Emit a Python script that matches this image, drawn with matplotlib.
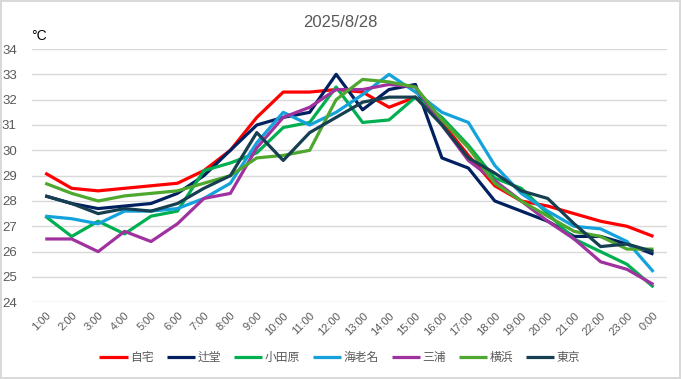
import matplotlib
matplotlib.use('Agg')
import matplotlib.pyplot as plt

plt.rcParams['font.family'] = ['Liberation Sans', 'Noto Sans CJK JP', 'DejaVu Sans']

hours = ['1:00', '2:00', '3:00', '4:00', '5:00', '6:00', '7:00', '8:00', '9:00', '10:00',
         '11:00', '12:00', '13:00', '14:00', '15:00', '16:00', '17:00', '18:00', '19:00',
         '20:00', '21:00', '22:00', '23:00', '0:00']

jitaku = [29.1, 28.5, 28.4, 28.5, 28.6, 28.7, 29.2, 30.0, 31.3, 32.3, 32.3, 32.4,
          32.3, 31.7, 32.1, 31.1, 29.8, 28.6, 28.0, 27.8, 27.5, 27.2, 27.0, 26.6]
tsujido = [28.2, 27.9, 27.7, 27.8, 27.9, 28.3, 29.0, 30.0, 31.0, 31.3, 31.5, 33.0,
           31.6, 32.4, 32.6, 29.7, 29.3, 28.0, 27.6, 27.2, 26.6, 26.6, 26.3, 25.9]
odawara = [27.4, 26.6, 27.2, 26.7, 27.4, 27.6, 29.2, 29.5, 29.9, 30.9, 31.1, 32.5,
           31.1, 31.2, 32.1, 31.3, 30.2, 28.9, 28.5, 27.5, 26.5, 26.0, 25.5, 24.6]
ebina = [27.4, 27.3, 27.1, 27.6, 27.6, 27.7, 28.1, 28.7, 30.3, 31.5, 31.0, 31.5,
         32.2, 33.0, 32.3, 31.5, 31.1, 29.4, 28.3, 27.6, 27.0, 26.9, 26.4, 25.2]
miura = [26.5, 26.5, 26.0, 26.8, 26.4, 27.1, 28.1, 28.3, 30.1, 31.3, 31.7, 32.4,
         32.4, 32.6, 32.5, 31.0, 29.6, 28.8, 28.0, 27.2, 26.5, 25.6, 25.3, 24.7]
yokohama = [28.7, 28.3, 28.0, 28.2, 28.3, 28.4, 28.7, 29.0, 29.7, 29.8, 30.0, 32.0,
            32.8, 32.7, 32.5, 31.2, 30.1, 28.7, 28.0, 27.4, 26.8, 26.6, 26.1, 26.1]
tokyo = [28.2, 27.9, 27.5, 27.7, 27.6, 27.9, 28.5, 29.0, 30.7, 29.6, 30.7, 31.3,
         31.9, 32.1, 32.1, 31.0, 29.7, 29.1, 28.4, 28.1, 27.1, 26.2, 26.3, 26.0]

series = [('自宅', jitaku, '#ff0000'),
          ('辻堂', tsujido, '#002060'),
          ('小田原', odawara, '#00b050'),
          ('海老名', ebina, '#14a2dc'),
          ('三浦', miura, '#a0329f'),
          ('横浜', yokohama, '#4ea72e'),
          ('東京', tokyo, '#173f52')]

fig = plt.figure(figsize=(6.81, 3.79), dpi=100)
fig.patch.set_edgecolor('#d9d9d9')
fig.patch.set_linewidth(1.5)
ax = fig.add_axes([0.047, 0.2024, 0.932, 0.6683])

x = list(range(len(hours)))
for name, vals, col in series:
    ax.plot(x, vals, color=col, lw=2.3, label=name, solid_capstyle='butt')

ax.set_ylim(24, 34)
ax.set_xlim(-0.5, len(hours) - 0.5)
ax.set_yticks(range(24, 35))
ax.set_xticks(x)
ax.set_xticklabels(hours, rotation=45, ha='right', rotation_mode='anchor')
ax.tick_params(axis='both', length=0, colors='#595959')
ax.tick_params(axis='y', labelsize=9.5, pad=11)
ax.tick_params(axis='x', labelsize=8, pad=6)
ax.grid(axis='y', color='#d9d9d9', lw=1)
ax.set_axisbelow(True)
for s in ax.spines.values():
    s.set_visible(False)

fig.text(0.5, 0.94, '2025/8/28', ha='center', va='center', fontsize=12, color='#595959')
fig.text(0.045, 0.905, '°C', ha='left', va='center', fontsize=10, color='black')

ax.legend(loc='center', bbox_to_anchor=(0.485, -0.22), ncol=7, frameon=False,
          fontsize=8.5, handlelength=2.4, handletextpad=0.2, columnspacing=1.1,
          labelcolor='#595959')

fig.savefig('out.png', dpi=100)
